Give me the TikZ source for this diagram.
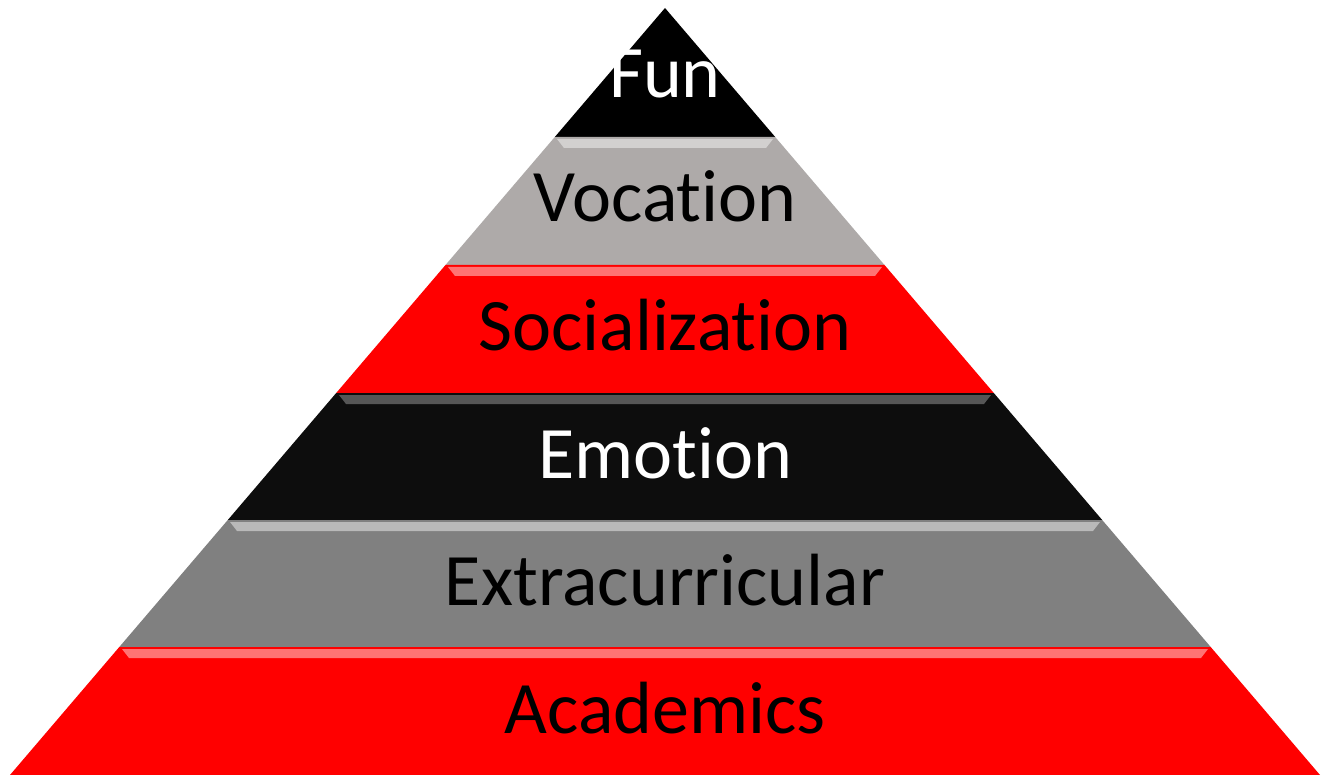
\documentclass[tikz,border=0pt]{standalone}
\usepackage{fontspec}
\setmainfont[Ligatures=NoCommon]{Carlito}
\usetikzlibrary{positioning}

\definecolor{vocgray}{RGB}{174,170,169}
\definecolor{extgray}{RGB}{128,128,128}
\definecolor{emoblack}{RGB}{13,13,13}

\begin{document}
\begin{tikzpicture}
    [x=1pt,y=-1pt,
     layer/.style={draw=none},
     gloss/.style={fill=white,opacity=0.45},
     label/.style={anchor=base,font=\fontsize{74}{88}\selectfont}]
    \useasboundingbox (0, 0) rectangle (1327, 775);
    \fill [white] (0, 0) rectangle (1327, 775);

    % Layers
    \fill [layer,black] (665, 8) -- (775.2, 137) -- (554.8, 137) -- cycle;
    \fill [layer,vocgray] (554.8, 137) -- (775.2, 137) -- (884.5, 265) -- (445.5, 265) -- cycle;
    \fill [layer,red] (445.5, 265) -- (884.5, 265) -- (993.8, 393) -- (336.2, 393) -- cycle;
    \fill [layer,emoblack] (336.2, 393) -- (993.8, 393) -- (1102.2, 520) -- (227.8, 520) -- cycle;
    \fill [layer,extgray] (227.8, 520) -- (1102.2, 520) -- (1210.7, 647) -- (119.3, 647) -- cycle;
    \fill [layer,red] (119.3, 647) -- (1210.7, 647) -- (1320, 775) -- (10, 775) -- cycle;

    % Gloss on top edges
    \fill [gloss] (557, 139) -- (773, 139) -- (766, 148) -- (564, 148) -- cycle;
    \fill [gloss] (448, 267) -- (882, 267) -- (875, 276) -- (455, 276) -- cycle;
    \fill [gloss,opacity=0.3] (339, 395) -- (991, 395) -- (984, 404) -- (346, 404) -- cycle;
    \fill [gloss] (230, 522) -- (1100, 522) -- (1093, 531) -- (237, 531) -- cycle;
    \fill [gloss] (122, 649) -- (1208, 649) -- (1201, 658) -- (129, 658) -- cycle;

    % Labels
    \node (fun) at (665, 98) [label,white] {Fun};
    \node (vocation) at (665, 222) [label] {Vocation};
    \node (social) at (665, 350) [label] {Socialization};
    \node (emotion) at (665, 478) [label,white] {Emotion};
    \node (extra) at (665, 605) [label] {Extracurricular};
    \node (academics) at (665, 733) [label] {Academics};
\end{tikzpicture}
\end{document}
